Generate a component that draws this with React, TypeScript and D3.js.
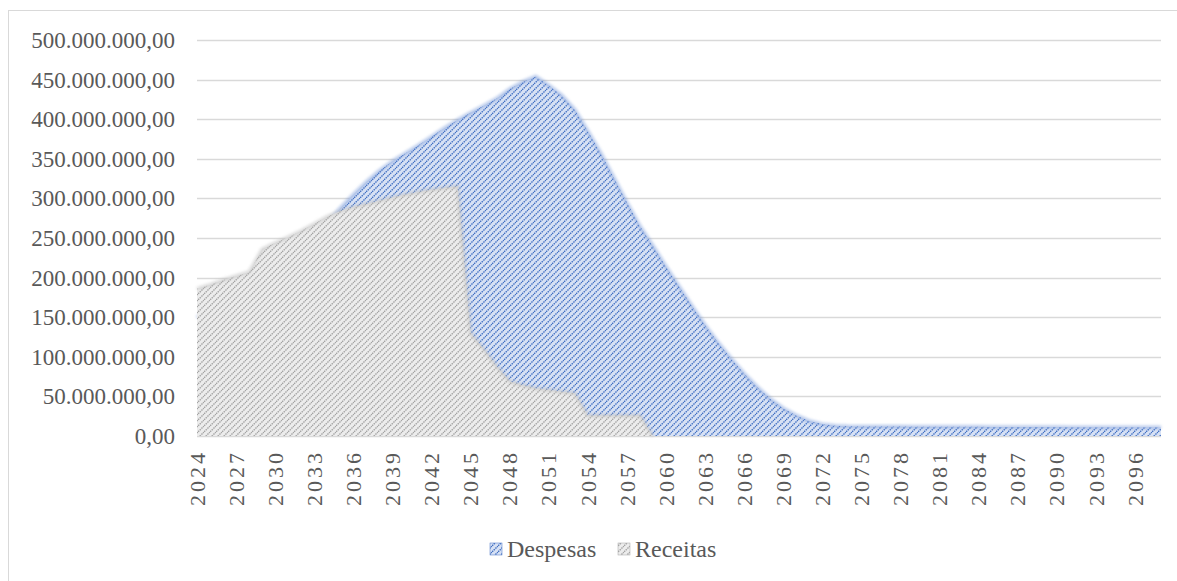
import React from "react";
import * as d3 from "d3";

const years: number[] = d3.range(2024, 2099);

// values in millions
const despesas: number[] = [
  150, 158, 166, 175, 184, 195, 207, 220, 235, 250, 268,
  288, 305, 321, 335, 347, 357, 367, 378, 389, 399,
  408, 417, 426, 438, 447, 454, 443, 430, 412, 385,
  357, 326, 295, 265, 240, 214, 189, 164, 140, 118,
  98, 79, 62, 47, 35, 26, 19, 15, 13, 12.3,
  12.0, 12.0, 11.9, 11.9, 11.8, 11.8, 11.7, 11.7, 11.6, 11.6,
  11.5, 11.5, 11.4, 11.4, 11.3, 11.3, 11.2, 11.2, 11.1, 11.1,
  11.0, 11.0, 10.9, 10.9,
];

const receitas: number[] = [
  186, 191, 197, 202, 207, 236, 244, 251, 259, 268, 277,
  284, 289, 293, 297, 301, 305, 308, 311, 313, 315,
  130, 110, 88, 69, 64, 60, 58, 56, 54, 26,
  26, 26, 26, 26, 0, 0, 0, 0, 0, 0,
  0, 0, 0, 0, 0, 0, 0, 0, 0, 0,
  0, 0, 0, 0, 0, 0, 0, 0, 0, 0,
  0, 0, 0, 0, 0, 0, 0, 0, 0, 0,
  0, 0, 0, 0,
];

const yTicks: number[] = d3.range(0, 500000001, 50000000);
const xTickYears: number[] = years.filter((y) => (y - 2024) % 3 === 0 && y <= 2096);
const seriesNames = ["Despesas", "Receitas"];

const W = 1177;
const H = 581;
const left = 197;
const right = 1161;
const top = 40;
const bottom = 436;

const locale = d3.formatLocale({
  decimal: ",",
  thousands: ".",
  grouping: [3],
  currency: ["R$", ""],
});
const fmt = locale.format(",.2f");

export default function App() {
  const x = d3.scaleLinear().domain([2024, 2098]).range([left, right]);
  const y = d3.scaleLinear().domain([0, 500000000]).range([bottom, top]);

  const area = d3
    .area<[number, number]>()
    .x((d) => x(d[0]))
    .y0(y(0))
    .y1((d) => y(d[1] * 1e6));
  const line = d3
    .line<[number, number]>()
    .x((d) => x(d[0]))
    .y((d) => y(d[1] * 1e6));

  const dData: [number, number][] = years.map((yr, i) => [yr, despesas[i]]);
  const rData: [number, number][] = years.map((yr, i) => [yr, receitas[i]]);

  const font = "'Liberation Serif', 'Times New Roman', serif";
  const textColor = "#595959";

  return (
    <svg
      width={W}
      height={H}
      style={{ position: "absolute", left: 0, top: 0 }}
      xmlns="http://www.w3.org/2000/svg"
    >
      <defs>
        <pattern id="patBlue" patternUnits="userSpaceOnUse" width="6" height="6">
          <rect width="6" height="6" fill="#d7e1f4" />
          <path
            d="M-1.5,1.5 L1.5,-1.5 M0,6 L6,0 M4.5,7.5 L7.5,4.5"
            stroke="#4472c4"
            strokeWidth="1.4"
            strokeDasharray="1.6 0.8"
          />
        </pattern>
        <pattern id="patGray" patternUnits="userSpaceOnUse" width="6" height="6">
          <rect width="6" height="6" fill="#ececec" />
          <path
            d="M-1.5,1.5 L1.5,-1.5 M0,6 L6,0 M4.5,7.5 L7.5,4.5"
            stroke="#a5a5a5"
            strokeWidth="1.4"
            strokeDasharray="1.6 0.8"
          />
        </pattern>
        <filter id="soft" x="-5%" y="-5%" width="110%" height="110%">
          <feGaussianBlur stdDeviation="1.5" />
        </filter>
      </defs>

      <rect x={8.5} y={10.5} width={1200} height={600} fill="#ffffff" stroke="#d9d9d9" strokeWidth={1} />

      {yTicks.map((t) => (
        <line
          key={"g" + t}
          x1={left}
          x2={right}
          y1={Math.round(y(t)) + 0.5}
          y2={Math.round(y(t)) + 0.5}
          stroke="#d9d9d9"
          strokeWidth={1.3}
        />
      ))}

      {/* Despesas */}
      <path d={area(dData) || ""} fill="url(#patBlue)" />
      <path
        d={line(dData) || ""}
        fill="none"
        stroke="#6f93d6"
        strokeWidth={3}
        opacity={0.55}
        filter="url(#soft)"
      />

      {/* Receitas */}
      <path d={area(rData) || ""} fill="url(#patGray)" />
      <path
        d={line(rData.filter((d) => d[0] <= 2059)) || ""}
        fill="none"
        stroke="#bdbdbd"
        strokeWidth={3}
        opacity={0.6}
        filter="url(#soft)"
      />

      {yTicks.map((t) => (
        <text
          key={"yl" + t}
          x={175}
          y={y(t)}
          dy="0.35em"
          textAnchor="end"
          fontFamily={font}
          fontSize={23}
          fill={textColor}
        >
          {fmt(t)}
        </text>
      ))}

      {xTickYears.map((yr) => (
        <text
          key={"xl" + yr}
          transform={`translate(${x(yr)},${450}) rotate(-90)`}
          dy="0.35em"
          textAnchor="end"
          fontFamily={font}
          fontSize={22}
          letterSpacing={3}
          fill={textColor}
        >
          {String(yr)}
        </text>
      ))}

      {/* Legend */}
      <g>
        <rect x={490} y={543} width={12} height={12} fill="url(#patBlue)" stroke="#4472c4" strokeWidth={0.5} />
        <text x={507} y={549} dy="0.35em" fontFamily={font} fontSize={24} fill={textColor}>
          {seriesNames[0]}
        </text>
        <rect x={618} y={543} width={12} height={12} fill="url(#patGray)" stroke="#a5a5a5" strokeWidth={0.5} />
        <text x={635} y={549} dy="0.35em" fontFamily={font} fontSize={24} fill={textColor}>
          {seriesNames[1]}
        </text>
      </g>
    </svg>
  );
}
